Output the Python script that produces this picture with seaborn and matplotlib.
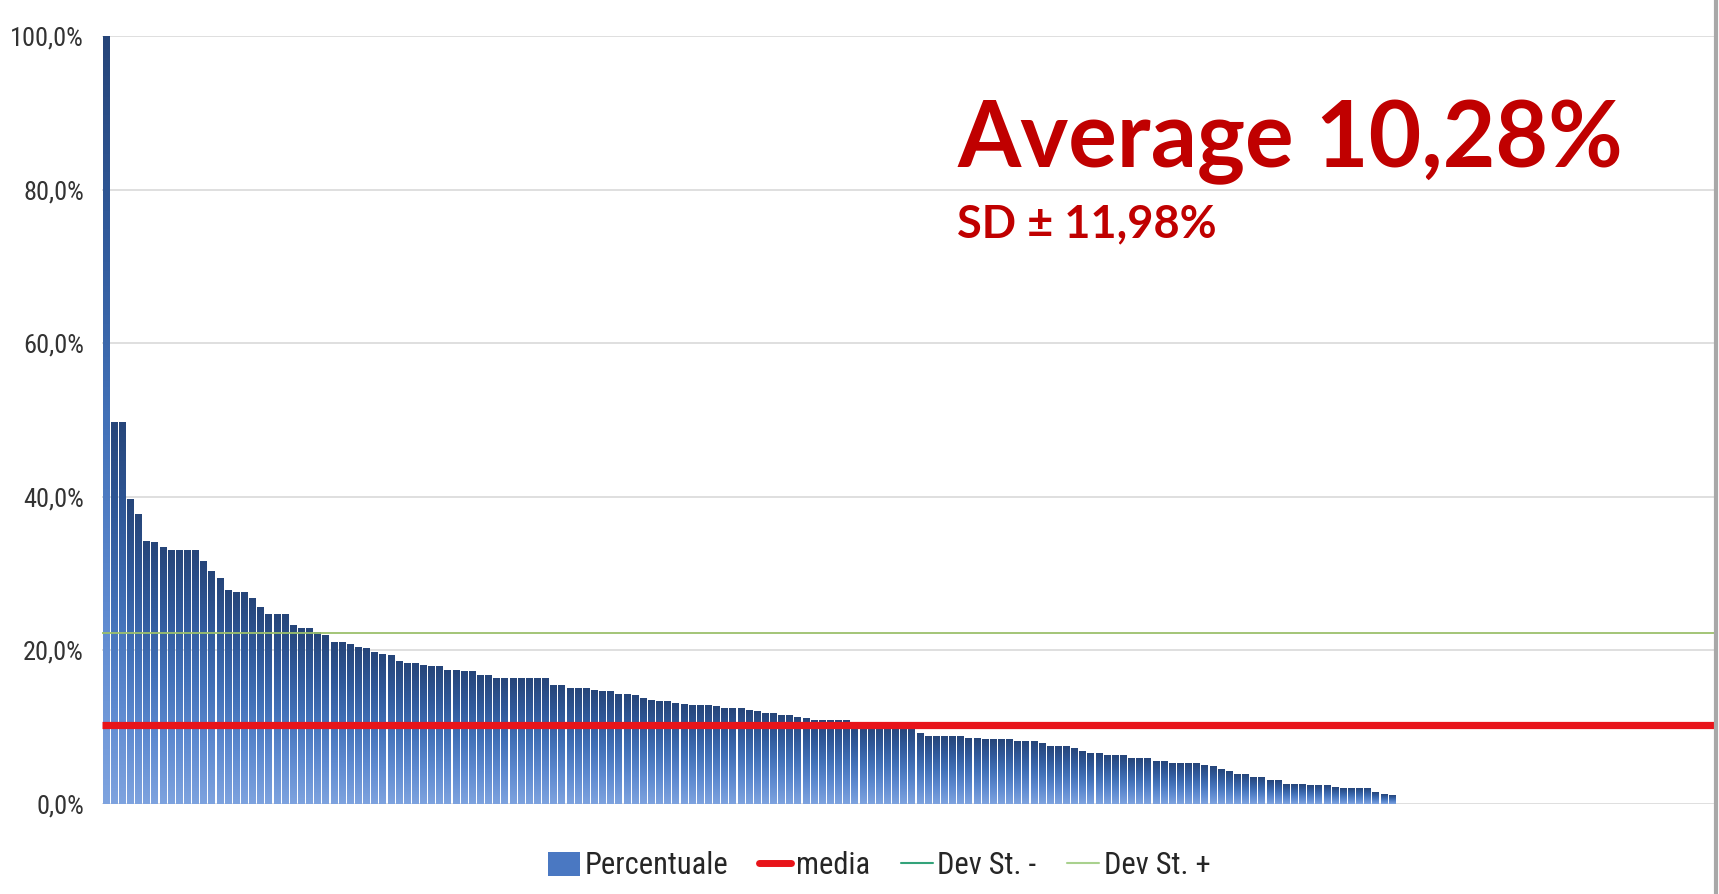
import numpy as np
import pandas as pd
import matplotlib
matplotlib.use("Agg")
import matplotlib.pyplot as plt
import seaborn as sns
from matplotlib import font_manager
from matplotlib.colors import LinearSegmentedColormap
from matplotlib.patches import Patch
from matplotlib.lines import Line2D

# ---------------- data ----------------
percentuale = [
    100.0, 49.7, 49.7, 39.7, 37.7, 34.2, 34.0, 33.4, 33.0, 33.0,
    33.0, 33.0, 31.6, 30.3, 29.4, 27.8, 27.5, 27.5, 26.8, 25.6,
    24.7, 24.7, 24.7, 23.2, 22.9, 22.9, 22.3, 21.9, 21.0, 21.0,
    20.8, 20.4, 20.2, 19.7, 19.5,
    19.3, 18.5, 18.3, 18.3, 18.0, 17.9, 17.9, 17.4, 17.4, 17.2,
    17.2, 16.7, 16.7, 16.3, 16.3, 16.3, 16.3, 16.3, 16.3, 16.3,
    15.4, 15.4, 15.0, 15.0, 15.0, 14.8, 14.6, 14.6, 14.3, 14.3,
    14.1, 13.7, 13.5, 13.3, 13.3, 13.1,
    13.0, 12.8, 12.8, 12.8, 12.7, 12.45, 12.45, 12.45, 12.2, 12.0,
    11.8, 11.8, 11.5, 11.5, 11.3, 11.1, 10.9, 10.9, 10.9, 10.9,
    10.9, 10.3, 10.3, 10.2, 10.2, 10.1, 10.1, 10.0, 10.0, 9.2,
    8.8, 8.8, 8.8, 8.8, 8.8, 8.55,
    8.57, 8.35, 8.35, 8.35, 8.35, 8.13, 8.13, 8.13, 7.87, 7.48,
    7.48, 7.48, 7.2, 6.8, 6.6, 6.6, 6.35, 6.35, 6.35, 5.96,
    5.96, 5.96, 5.5, 5.5, 5.26, 5.26, 5.26, 5.26, 5.04, 4.87,
    4.43, 4.2, 3.78, 3.78, 3.43, 3.43, 3.04, 3.04, 2.57, 2.57,
    2.57, 2.35, 2.35, 2.35, 2.13, 1.96, 1.96, 1.96, 1.96, 1.48,
    1.3, 1.09,
]
media = 10.28
dev_st = 11.98
y_ticks = [0, 20, 40, 60, 80, 100]
legend_labels = ["Percentuale", "media", "Dev St. -", "Dev St. +"]
title_text = "Average 10,28%"
subtitle_text = "SD \u00b1 11,98%"
n_slots = 198.3

# ---------------- fonts ----------------
flist = font_manager.fontManager.ttflist
avail = {f.name for f in flist}
narrow_family = None
narrow_stretch = "normal"
for cand in ["Liberation Sans Narrow", "Roboto Condensed", "Open Sans Condensed",
             "Noto Sans Condensed", "DejaVu Sans Condensed"]:
    if cand in avail:
        narrow_family = cand
        break
if narrow_family is None:
    narrow_family = "DejaVu Sans"
    narrow_stretch = "condensed"
scale = 1.0 if narrow_family in ("Liberation Sans Narrow", "Roboto Condensed") else 0.78
title_font = "Lato" if "Lato" in avail else "DejaVu Sans"

sns.set_theme(style="white")
plt.rcParams["font.family"] = [narrow_family, "DejaVu Sans"]
plt.rcParams["font.stretch"] = narrow_stretch

W, H = 1719, 894
fig = plt.figure(figsize=(W / 100, H / 100), dpi=100)
fig.patch.set_facecolor("white")
ax = fig.add_axes([102 / W, 1 - 804 / H, (1716 - 102) / W, (804 - 36) / H])
ax.set_facecolor("white")

df = pd.DataFrame({"idx": np.arange(len(percentuale)), "val": percentuale})
sns.barplot(data=df, x="idx", y="val", color="#3f6db5", saturation=1,
            width=0.84, ax=ax, zorder=2, errorbar=None)

# per-bar vertical gradient (dark top -> light bottom)
cmap = LinearSegmentedColormap.from_list(
    "bar", ["#7ea3df", "#5e8ad0", "#4271b8", "#30599a", "#264579"])
grad = np.linspace(0, 1, 256).reshape(-1, 1)
for p in list(ax.patches):
    x0, w, h = p.get_x(), p.get_width(), p.get_height()
    ax.imshow(grad, extent=[x0, x0 + w, 0, h], origin="lower",
              aspect="auto", cmap=cmap, zorder=2.1, interpolation="bilinear")
    p.set_visible(False)

# reference lines
ax.axhline(media, color="#e8141a", lw=5.2, zorder=4, solid_capstyle="butt")
ax.axhline(media - dev_st, color="#33a37a", lw=1.3, zorder=3)
ax.axhline(media + dev_st, color="#9cc06c", lw=1.3, zorder=3)

ax.set_xlim(-0.5, n_slots - 0.5)
ax.set_ylim(0, 100)
ax.set_yticks(y_ticks)
ax.set_yticklabels([f"{v:.1f}%".replace(".", ",") for v in y_ticks],
                   fontsize=19 * scale, color="#333333", fontstretch=narrow_stretch)
ax.tick_params(axis="y", length=0, pad=13)
ax.set_xticks([])
ax.set_xlabel("")
ax.set_ylabel("")
ax.yaxis.grid(True, color="#d9d9d9", lw=1.2, zorder=0)
ax.set_axisbelow(True)
for s in ax.spines.values():
    s.set_visible(False)

# annotations
fig.text(957 / W, 1 - 167 / H, title_text, fontsize=65.5, fontweight="bold",
         color="#c00000", family=[title_font, "DejaVu Sans"], va="baseline", ha="left")
fig.text(957 / W, 1 - 237 / H, subtitle_text, fontsize=32.5, fontweight="bold",
         color="#c00000", family=[title_font, "DejaVu Sans"], va="baseline", ha="left")

# legend
handles = [
    Patch(facecolor="#4a78c2", edgecolor="none"),
    Line2D([0], [0], color="#e8141a", lw=5),
    Line2D([0], [0], color="#33a37a", lw=1.5),
    Line2D([0], [0], color="#a9d18e", lw=1.5),
]
fig.legend(handles, legend_labels, loc="center", bbox_to_anchor=(0.5115, 1 - 866 / H),
           ncol=4, frameon=False, handlelength=1.05,
           prop={"size": 22 * scale, "stretch": narrow_stretch, "family": [narrow_family, "DejaVu Sans"]},
           handleheight=0.8, handletextpad=0.15, columnspacing=1.0)

# right-edge border from the screenshot
fig.add_artist(Line2D([0.9985, 0.9985], [0, 1], transform=fig.transFigure,
                      color="#a8a8a8", lw=3))

fig.savefig("out.png", dpi=100, facecolor="white")
